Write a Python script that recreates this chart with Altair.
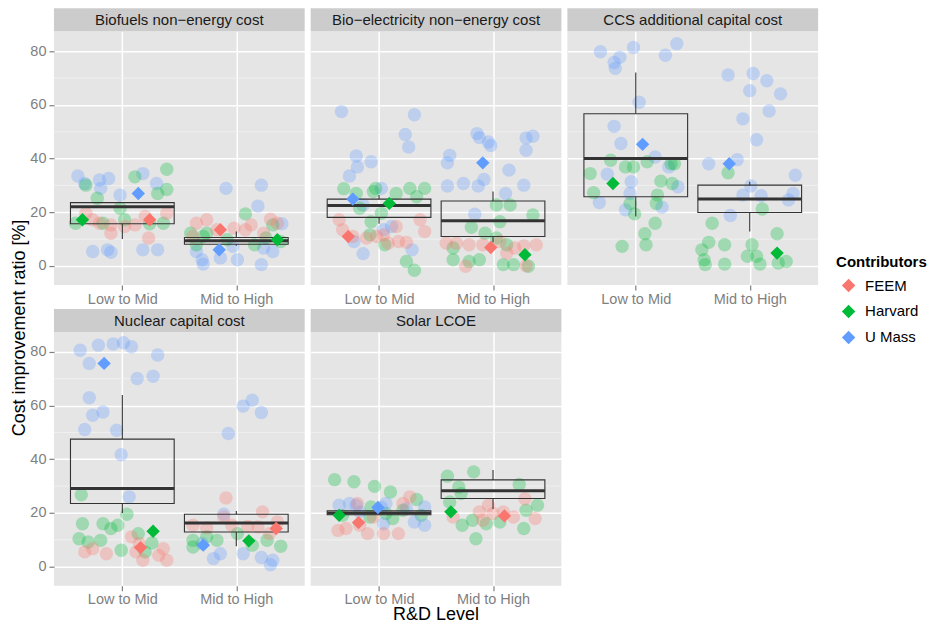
import altair as alt
import pandas as pd

PANEL_TITLES = [
    "Biofuels non\u2212energy cost",
    "Bio\u2212electricity non\u2212energy cost",
    "CCS additional capital cost",
    "Nuclear capital cost",
    "Solar LCOE",
]
LEVEL_LABELS = ["Low to Mid", "Mid to High"]
CONTRIBUTORS = ["FEEM", "Harvard", "U Mass"]
COLORS = ["#F8766D", "#00BA38", "#619CFF"]
F, H, U = "FEEM", "Harvard", "U Mass"

# individual estimates: (level 1/2, contributor, jitter, value %)
BIOFUELS = [
    (1, U, -0.39, 33.5), (1, U, -0.33, 30.7), (1, U, -0.20, 32.0), (1, U, -0.12, 32.6),
    (1, U, -0.19, 28.9), (1, U, -0.02, 26.4), (1, U, 0.18, 34.4), (1, U, 0.30, 30.7),
    (1, U, -0.26, 5.4), (1, U, -0.13, 6.0), (1, U, -0.10, 5.1), (1, U, 0.18, 6.0), (1, U, 0.31, 6.0),
    (1, H, -0.32, 30.1), (1, H, -0.22, 25.2), (1, H, 0.11, 33.2), (1, H, 0.39, 36.0),
    (1, H, 0.31, 27.0), (1, H, 0.39, 28.5), (1, H, -0.02, 21.5), (1, H, -0.41, 15.9),
    (1, H, -0.17, 15.9), (1, H, 0.02, 17.2), (1, H, 0.24, 15.7), (1, H, 0.36, 15.9),
    (1, F, -0.32, 19.6), (1, F, -0.20, 15.9), (1, F, -0.10, 15.3), (1, F, -0.10, 12.2),
    (1, F, 0.11, 15.3), (1, F, 0.20, 18.4), (1, F, 0.39, 19.6), (1, F, 0.23, 10.4),
    (1, F, 0.02, 14.7), (1, F, -0.26, 17.2),
    (2, U, -0.09, 28.9), (2, U, 0.22, 30.1), (2, U, 0.19, 22.3), (2, U, 0.40, 15.7),
    (2, U, -0.30, 2.3), (2, U, -0.29, 0.7), (2, U, 0.01, 2.3), (2, U, 0.22, 0.5),
    (2, U, -0.14, 3.0), (2, U, 0.32, 5.4), (2, U, -0.35, 5.4), (2, U, -0.03, 7.3), (2, U, 0.24, 6.7),
    (2, H, 0.08, 19.4), (2, H, -0.40, 12.2), (2, H, -0.29, 11.0), (2, H, -0.35, 7.9),
    (2, H, 0.16, 7.9), (2, H, 0.26, 10.4), (2, H, 0.32, 15.3), (2, H, 0.39, 9.1),
    (2, H, -0.26, 12.2), (2, H, -0.08, 9.8),
    (2, F, -0.35, 15.9), (2, F, -0.26, 17.2), (2, F, -0.02, 14.1), (2, F, 0.08, 13.5),
    (2, F, 0.13, 15.3), (2, F, 0.30, 17.4), (2, F, 0.36, 15.9), (2, F, -0.17, 13.5),
    (2, F, -0.38, 11.0), (2, F, 0.24, 12.2),
]
BIOELEC = [
    (1, U, -0.33, 57.5), (1, U, -0.20, 41.0), (1, U, -0.07, 38.8), (1, U, -0.19, 36.9),
    (1, U, -0.26, 33.5), (1, U, 0.31, 56.3), (1, U, 0.23, 49.0), (1, U, 0.26, 44.3),
    (1, U, 0.02, 28.9), (1, U, -0.14, 22.7), (1, U, -0.14, 4.6), (1, U, -0.22, 9.1),
    (1, U, 0.11, 14.7), (1, U, 0.29, 6.0), (1, U, 0.04, 13.5),
    (1, H, -0.31, 28.8), (1, H, -0.20, 27.0), (1, H, -0.05, 27.7), (1, H, -0.03, 28.9),
    (1, H, 0.15, 27.0), (1, H, 0.27, 28.9), (1, H, 0.40, 28.9), (1, H, 0.33, 25.8),
    (1, H, -0.17, 21.5), (1, H, -0.07, 16.5), (1, H, 0.02, 19.6), (1, H, 0.24, 1.7),
    (1, H, 0.31, -1.6), (1, H, 0.05, 7.9), (1, H, -0.08, 11.6),
    (1, F, -0.35, 17.2), (1, F, -0.32, 13.5), (1, F, -0.23, 11.0), (1, F, -0.11, 10.4),
    (1, F, -0.02, 11.0), (1, F, 0.04, 11.6), (1, F, 0.15, 14.7), (1, F, 0.17, 9.1),
    (1, F, 0.24, 8.8), (1, F, 0.36, 17.2), (1, F, 0.40, 12.8), (1, F, 0.08, 8.5),
    (2, U, -0.38, 41.2), (2, U, -0.40, 38.4), (2, U, -0.14, 49.3), (2, U, -0.12, 47.8),
    (2, U, -0.04, 46.2), (2, U, -0.02, 44.9), (2, U, 0.29, 43.1), (2, U, 0.29, 47.7),
    (2, U, 0.35, 48.3), (2, U, 0.14, 35.7), (2, U, -0.08, 32.2), (2, U, -0.26, 30.7),
    (2, U, -0.40, 29.8), (2, U, 0.27, 30.1), (2, U, -0.13, 29.8), (2, U, 0.11, 27.0),
    (2, U, -0.16, 19.3),
    (2, H, 0.03, 22.7), (2, H, 0.15, 22.7), (2, H, 0.06, 16.5), (2, H, -0.19, 14.4),
    (2, H, -0.07, 12.2), (2, H, 0.03, 10.4), (2, H, 0.35, 19.0), (2, H, -0.35, 6.7),
    (2, H, -0.35, 2.3), (2, H, -0.21, 1.7), (2, H, -0.12, 2.3), (2, H, 0.09, 0.5),
    (2, H, 0.18, 0.5), (2, H, 0.31, -0.1), (2, H, 0.12, 7.9),
    (2, F, -0.41, 8.5), (2, F, -0.32, 8.5), (2, F, -0.21, 7.9), (2, F, -0.09, 7.9),
    (2, F, 0.06, 9.1), (2, F, 0.19, 6.7), (2, F, 0.27, 7.5), (2, F, 0.38, 7.9),
    (2, F, -0.24, -0.1), (2, F, 0.29, 0.1), (2, F, 0.12, 4.8),
]
CCS = [
    (1, U, -0.31, 79.8), (1, U, -0.14, 77.7), (1, U, -0.19, 75.8), (1, U, -0.18, 73.6),
    (1, U, -0.02, 81.4), (1, U, 0.26, 78.5), (1, U, 0.36, 82.8), (1, U, 0.03, 61.0),
    (1, U, -0.19, 52.0), (1, U, -0.13, 45.6), (1, U, 0.17, 40.6), (1, U, 0.29, 36.9),
    (1, U, -0.25, 34.2), (1, U, -0.04, 31.4), (1, U, 0.37, 29.5), (1, U, -0.05, 27.0),
    (1, U, -0.32, 23.6), (1, U, -0.09, 20.9), (1, U, 0.23, 21.9),
    (1, H, -0.22, 39.4), (1, H, -0.09, 36.9), (1, H, -0.02, 36.9), (1, H, 0.10, 38.8),
    (1, H, 0.31, 38.1), (1, H, 0.34, 38.1), (1, H, -0.40, 34.4), (1, H, -0.37, 27.3),
    (1, H, 0.22, 31.6), (1, H, 0.32, 30.7), (1, H, 0.19, 26.4), (1, H, 0.18, 23.3),
    (1, H, -0.05, 23.3), (1, H, -0.01, 19.4), (1, H, 0.17, 15.9), (1, H, 0.08, 12.0),
    (1, H, 0.09, 7.9), (1, H, -0.12, 7.3),
    (2, U, -0.19, 71.1), (2, U, 0.03, 71.7), (2, U, 0.15, 69.0), (2, U, 0.00, 65.3),
    (2, U, 0.27, 64.1), (2, U, 0.17, 57.7), (2, U, -0.06, 54.8), (2, U, 0.06, 47.0),
    (2, U, -0.11, 39.6), (2, U, -0.36, 38.1), (2, U, 0.40, 33.8), (2, U, 0.01, 29.8),
    (2, U, -0.06, 26.4), (2, U, 0.10, 26.2), (2, U, 0.38, 27.0), (2, U, 0.34, 24.6),
    (2, U, -0.17, 18.8),
    (2, H, -0.19, 34.7), (2, H, 0.11, 21.2), (2, H, -0.33, 15.9), (2, H, 0.24, 12.0),
    (2, H, -0.36, 8.8), (2, H, -0.42, 6.0), (2, H, -0.40, 2.3), (2, H, -0.39, 0.5),
    (2, H, -0.22, 7.9), (2, H, -0.22, 0.7), (2, H, 0.02, 7.9), (2, H, -0.02, 3.6),
    (2, H, 0.06, 3.6), (2, H, 0.09, 0.7), (2, H, 0.25, 1.1), (2, H, 0.32, 1.7),
]
NUCLEAR = [
    (1, U, -0.37, 80.6), (1, U, -0.21, 82.5), (1, U, -0.08, 82.9), (1, U, 0.01, 83.4),
    (1, U, 0.08, 81.9), (1, U, -0.29, 75.7), (1, U, 0.31, 78.8), (1, U, 0.13, 70.1),
    (1, U, 0.27, 70.9), (1, U, -0.29, 62.9), (1, U, -0.26, 56.4), (1, U, -0.17, 57.6),
    (1, U, -0.33, 51.1), (1, U, -0.05, 50.8), (1, U, -0.01, 41.7), (1, U, 0.06, 26.0),
    (1, H, -0.36, 26.8), (1, H, 0.04, 19.5), (1, H, -0.35, 16.0), (1, H, -0.17, 16.0),
    (1, H, -0.10, 14.2), (1, H, -0.04, 15.4), (1, H, -0.38, 10.4), (1, H, -0.30, 9.2),
    (1, H, -0.19, 9.8), (1, H, -0.01, 6.1), (1, H, 0.14, 12.3), (1, H, 0.20, 5.5),
    (1, H, 0.26, 8.8),
    (1, F, -0.33, 5.5), (1, F, -0.26, 6.7), (1, F, -0.14, 4.8), (1, F, 0.08, 11.1),
    (1, F, 0.12, 5.5), (1, F, 0.18, 2.4), (1, F, 0.32, 4.2), (1, F, 0.39, 2.4),
    (1, F, 0.36, 6.7), (1, F, 0.15, 8.6),
    (2, U, 0.06, 59.8), (2, U, 0.14, 62.0), (2, U, 0.22, 57.4), (2, U, -0.07, 49.6),
    (2, U, -0.11, 19.5), (2, U, -0.20, 3.0), (2, U, -0.14, 4.8), (2, U, 0.06, 4.8),
    (2, U, 0.22, 3.4), (2, U, 0.30, 0.7), (2, U, 0.32, 2.4), (2, U, -0.30, 8.6),
    (2, H, -0.38, 9.8), (2, H, -0.26, 11.1), (2, H, -0.17, 9.8), (2, H, 0.01, 12.3),
    (2, H, 0.14, 8.0), (2, H, 0.27, 9.8), (2, H, 0.39, 7.6), (2, H, -0.38, 7.3),
    (2, F, -0.09, 25.6), (2, F, -0.11, 18.5), (2, F, 0.23, 20.4), (2, F, -0.38, 15.4),
    (2, F, -0.26, 14.5), (2, F, -0.04, 15.4), (2, F, 0.10, 15.0), (2, F, 0.19, 14.8),
    (2, F, 0.36, 16.6), (2, F, 0.29, 12.3),
]
SOLAR = [
    (1, H, -0.39, 32.4), (1, H, -0.22, 31.6), (1, H, -0.04, 29.9), (1, H, 0.10, 27.8),
    (1, H, 0.33, 25.0), (1, H, -0.07, 22.2), (1, H, -0.32, 19.1), (1, H, 0.06, 19.8),
    (1, H, 0.21, 21.0), (1, H, 0.37, 19.1), (1, H, -0.08, 18.5), (1, H, 0.12, 17.9),
    (1, U, -0.35, 22.9), (1, U, -0.26, 23.5), (1, U, -0.20, 22.9), (1, U, -0.17, 20.4),
    (1, U, 0.02, 22.0), (1, U, 0.06, 23.5), (1, U, 0.24, 21.6), (1, U, 0.40, 22.2),
    (1, U, 0.31, 16.6), (1, U, 0.40, 15.4), (1, U, 0.04, 16.0),
    (1, F, -0.36, 13.5), (1, F, -0.29, 14.2), (1, F, -0.17, 15.4), (1, F, -0.10, 12.3),
    (1, F, 0.04, 12.3), (1, F, 0.17, 12.3), (1, F, 0.27, 26.0), (1, F, 0.21, 23.5),
    (1, F, -0.19, 23.5), (1, F, -0.05, 18.5),
    (2, H, -0.40, 33.7), (2, H, -0.17, 35.3), (2, H, -0.30, 29.7), (2, H, -0.28, 27.2),
    (2, H, 0.23, 30.6), (2, H, -0.38, 24.1), (2, H, 0.39, 22.9), (2, H, 0.29, 21.0),
    (2, H, -0.27, 15.4), (2, H, -0.15, 10.4), (2, H, -0.06, 16.0), (2, H, 0.06, 16.6),
    (2, H, 0.27, 14.2), (2, H, -0.18, 17.3),
    (2, F, -0.35, 18.5), (2, F, -0.12, 20.4), (2, F, -0.04, 22.9), (2, F, 0.00, 19.8),
    (2, F, 0.09, 20.4), (2, F, 0.18, 18.5), (2, F, 0.28, 25.3), (2, F, 0.37, 17.9),
    (2, F, -0.09, 17.3),
]

# contributor averages (diamonds): (level, contributor, jitter, value)
MEANS_BIOFUELS = [(1, F, 0.24, 17.2), (1, H, -0.35, 17.2), (1, U, 0.14, 27.0),
                  (2, F, -0.14, 13.5), (2, H, 0.36, 9.8), (2, U, -0.15, 6.0)]
MEANS_BIOELEC = [(1, F, -0.27, 11.0), (1, H, 0.09, 23.3), (1, U, -0.23, 24.9),
                 (2, F, -0.02, 6.9), (2, H, 0.28, 4.2), (2, U, -0.09, 38.4)]
MEANS_CCS = [(1, H, -0.20, 30.7), (1, U, 0.06, 45.3),
             (2, H, 0.24, 4.8), (2, U, -0.18, 38.1)]
MEANS_NUCLEAR = [(1, F, 0.16, 7.1), (1, H, 0.27, 13.2), (1, U, -0.16, 75.7),
                 (2, F, 0.35, 14.2), (2, H, 0.11, 9.6), (2, U, -0.29, 8.0)]
MEANS_SOLAR = [(1, F, -0.18, 16.4), (1, H, -0.35, 19.1), (1, U, -0.01, 22.0),
               (2, F, 0.10, 18.9), (2, H, -0.37, 20.4)]

# box statistics: (level, lower whisker, q1, median, q3, upper whisker)
BOX_BIOFUELS = [(1, 10.0, 15.7, 22.1, 23.6, 23.6), (2, 7.5, 8.1, 9.4, 10.6, 12.8)]
BOX_BIOELEC = [(1, 15.7, 18.1, 22.5, 24.9, 26.4), (2, 8.8, 11.0, 16.8, 24.2, 27.7)]
BOX_CCS = [(1, 18.4, 25.8, 40.0, 56.7, 72.1), (2, 12.8, 19.9, 24.9, 30.1, 31.4)]
BOX_NUCLEAR = [(1, 20.0, 23.5, 29.1, 47.5, 63.9), (2, 7.6, 12.9, 16.3, 19.5, 20.7)]
BOX_SOLAR = [(1, 19.3, 19.3, 20.0, 20.8, 20.8), (2, 21.5, 25.4, 28.3, 32.3, 36.0)]

MINOR_GRID = [10, 30, 50, 70]
MAJOR_TICKS = [0, 20, 40, 60, 80]

W, HGT = 251, 254
STRIP = 23
FONT = "Liberation Sans"
XS = alt.Scale(domain=[0.4, 2.6], nice=False, zero=False)
YS = alt.Scale(domain=[-7.1, 87.4], nice=False, zero=False)
CS = alt.Scale(domain=CONTRIBUTORS, range=COLORS)
LABEL_EXPR = "datum.value == 1 ? '%s' : '%s'" % (LEVEL_LABELS[0], LEVEL_LABELS[1])

LEGEND = alt.Legend(title="Contributors", orient="none", legendX=829, legendY=224,
                    symbolType="diamond", symbolSize=180, symbolOpacity=1,
                    titleFontSize=15, titleFont=FONT, titleFontWeight="bold",
                    titleColor="#000000", labelFontSize=15, labelFont=FONT,
                    labelColor="#000000", rowPadding=10, titlePadding=8,
                    symbolOffset=5, labelOffset=9, symbolStrokeWidth=0)


def panel(title, pts, means, box, left=False, xtitle=False):
    pdf = pd.DataFrame(pts, columns=["level", "who", "jit", "val"])
    mdf = pd.DataFrame(means, columns=["level", "who", "jit", "val"])
    bdf = pd.DataFrame(box, columns=["level", "lo", "q1", "med", "q3", "hi"])
    gdf = pd.DataFrame({"g": MINOR_GRID})
    tdf = pd.DataFrame({"t": [title]})

    x_axis = alt.Axis(values=[1, 2], labelExpr=LABEL_EXPR, title=None, grid=True,
                      gridColor="white", gridWidth=1.5, domain=False, tickSize=5,
                      tickColor="#7F7F7F", tickWidth=1.2, labelColor="#7F7F7F",
                      labelFontSize=14.5, labelPadding=2, labelFont=FONT)
    y_axis = alt.Axis(values=MAJOR_TICKS, title=None, grid=True, gridColor="white",
                      gridWidth=1.5, domain=False, labels=left, ticks=left, tickSize=5,
                      tickColor="#7F7F7F", tickWidth=1.2, labelColor="#7F7F7F",
                      labelFontSize=14.5, labelPadding=3, labelFont=FONT)

    def X(f):
        return alt.X(f, scale=XS, axis=x_axis)

    def Y(f):
        return alt.Y(f, scale=YS, axis=y_axis)

    color = alt.Color("who:N", scale=CS, legend=LEGEND)

    minor = alt.Chart(gdf).mark_rule(color="#F2F2F2", strokeWidth=0.8).encode(y=Y("g:Q"))
    circles = alt.Chart(pdf).transform_calculate(xj="datum.level + datum.jit").mark_circle(
        size=180, opacity=0.3).encode(x=X("xj:Q"), y=Y("val:Q"), color=color)
    strip = alt.Chart(tdf).mark_rect(color="#CCCCCC").encode(
        x=alt.value(0), x2=alt.value(W), y=alt.value(-STRIP), y2=alt.value(0))
    strip_text = alt.Chart(tdf).mark_text(fontSize=15, font=FONT, color="#1A1A1A",
                                          baseline="middle", align="center").encode(
        text="t:N", x=alt.value(W / 2), y=alt.value(-STRIP / 2 + 0.5))

    bbase = alt.Chart(bdf).transform_calculate(
        xlo="datum.level - 0.455", xhi="datum.level + 0.455")
    boxr = bbase.mark_rect(fill="transparent", stroke="#333333", strokeWidth=1.1).encode(
        x=X("xlo:Q"), x2="xhi:Q", y=Y("q1:Q"), y2="q3:Q")
    wh_up = bbase.mark_rule(color="#333333", strokeWidth=1.1).encode(
        x=X("level:Q"), y=Y("q3:Q"), y2="hi:Q")
    wh_lo = bbase.mark_rule(color="#333333", strokeWidth=1.1).encode(
        x=X("level:Q"), y=Y("lo:Q"), y2="q1:Q")
    median = bbase.mark_rule(color="#333333", strokeWidth=3).encode(
        x=X("xlo:Q"), x2="xhi:Q", y=Y("med:Q"))
    diamonds = alt.Chart(mdf).transform_calculate(xj="datum.level + datum.jit").mark_point(
        shape="diamond", filled=True, size=180, opacity=1).encode(
        x=X("xj:Q"), y=Y("val:Q"), color=color)

    layers = [minor, circles, strip, strip_text, boxr, wh_up, wh_lo, median, diamonds]
    if xtitle:
        xdf = pd.DataFrame({"t": ["R&D Level"]})
        layers.append(alt.Chart(xdf).mark_text(fontSize=18, font=FONT, color="#000000",
                                               baseline="middle", align="center").encode(
            text="t:N", x=alt.value(W / 2), y=alt.value(HGT + 29)))
    return alt.layer(*layers).properties(width=W, height=HGT)


p1 = panel(PANEL_TITLES[0], BIOFUELS, MEANS_BIOFUELS, BOX_BIOFUELS, left=True)
p2 = panel(PANEL_TITLES[1], BIOELEC, MEANS_BIOELEC, BOX_BIOELEC)
p3 = panel(PANEL_TITLES[2], CCS, MEANS_CCS, BOX_CCS)
p4 = panel(PANEL_TITLES[3], NUCLEAR, MEANS_NUCLEAR, BOX_NUCLEAR, left=True)
p5 = panel(PANEL_TITLES[4], SOLAR, MEANS_SOLAR, BOX_SOLAR, xtitle=True)

ytdf = pd.DataFrame({"t": ["Cost improvement ratio [%]"]})
ytitle = alt.Chart(ytdf).mark_text(fontSize=18, font=FONT, color="#000000", angle=270,
                                   baseline="middle", align="center").encode(
    text="t:N", x=alt.value(12), y=alt.value(297)
).properties(width=20, height=580,
             view=alt.ViewBackground(fillOpacity=0, strokeOpacity=0))

row1 = alt.hconcat(p1, p2, p3, spacing=4)
row2 = alt.hconcat(p4, p5, spacing=4)
grid = alt.vconcat(row1, row2, spacing=3)
chart = alt.hconcat(ytitle, grid, spacing=0).properties(
    padding={"left": 0, "top": 0, "right": 0, "bottom": 0}
).configure(font=FONT).configure_view(fill="#E5E5E5", strokeWidth=0)

chart.save("out.html", embed_options={"renderer": "svg", "actions": False})
